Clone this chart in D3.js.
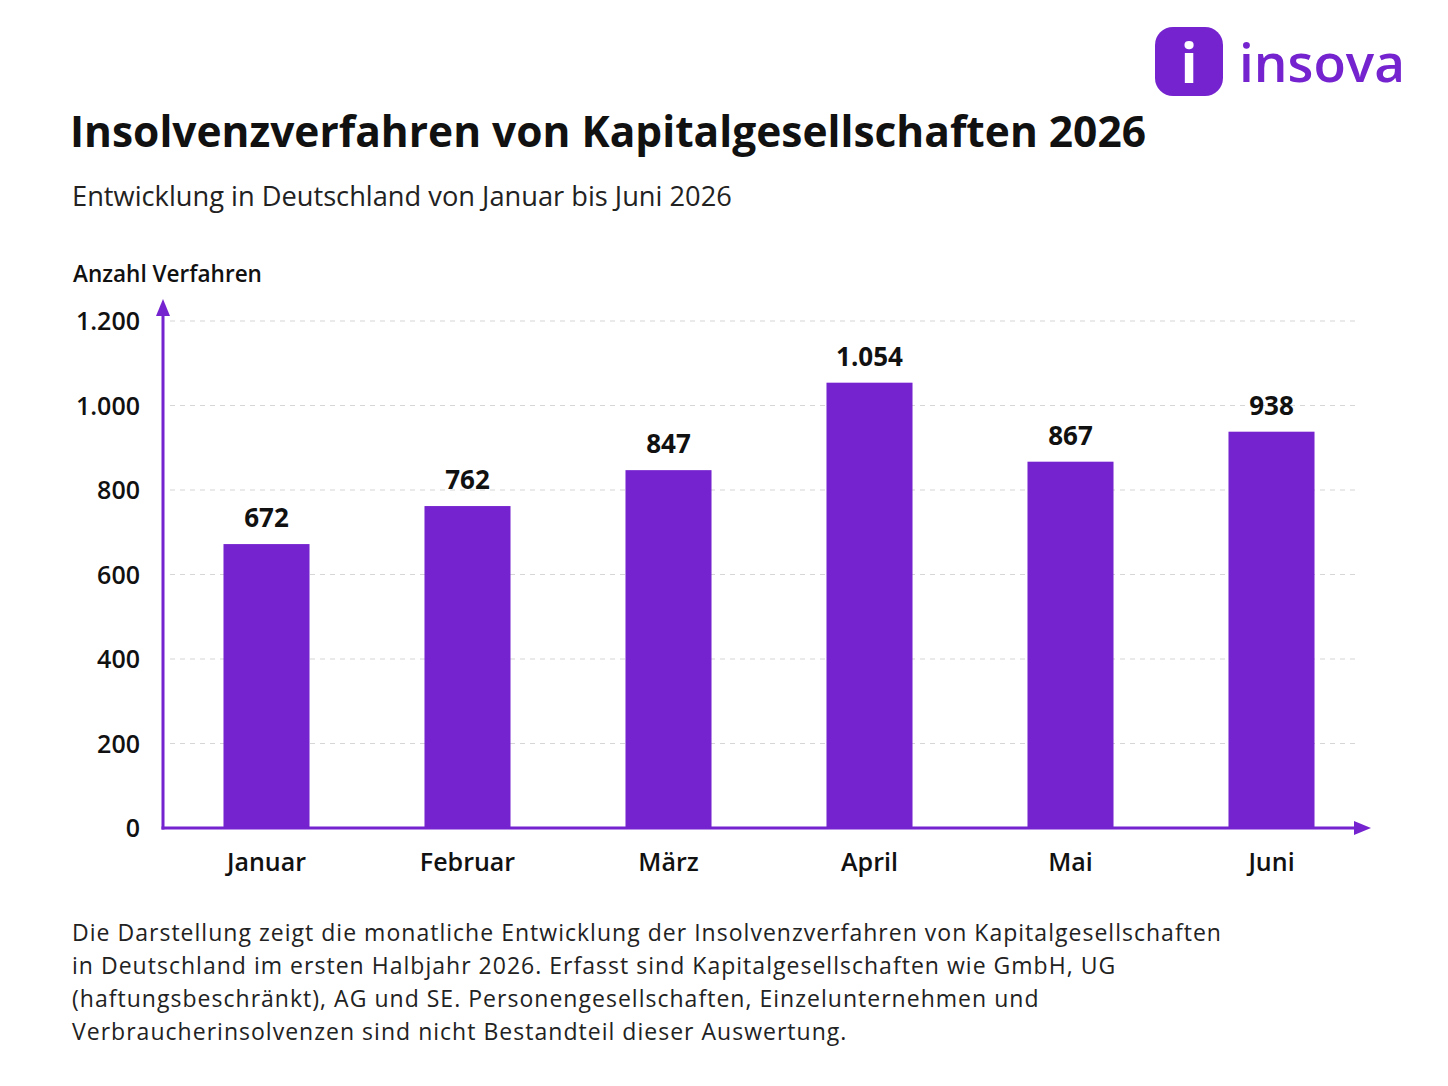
<!DOCTYPE html>
<html>
<head>
<meta charset="utf-8">
<script src="https://cdn.jsdelivr.net/npm/d3@7"></script>
<style>
  body { margin: 0; background: #fff; }
  svg { display: block; font-family: "Open Sans", "Noto Sans", sans-serif; }
</style>
</head>
<body>
<div id="chart"></div>
<script>
// data
const months = ["Januar", "Februar", "März", "April", "Mai", "Juni"];
const counts = [672, 762, 847, 1054, 867, 938];
const yTicks = [0, 200, 400, 600, 800, 1000, 1200];

const footnote = [
    "Die Darstellung zeigt die monatliche Entwicklung der Insolvenzverfahren von Kapitalgesellschaften",
    "in Deutschland im ersten Halbjahr 2026. Erfasst sind Kapitalgesellschaften wie GmbH, UG",
    "(haftungsbeschränkt), AG und SE. Personengesellschaften, Einzelunternehmen und",
    "Verbraucherinsolvenzen sind nicht Bestandteil dieser Auswertung."
];

const purple = "#7523cf";
const W = 1448, H = 1086;
const fmt = d3.formatLocale({ decimal: ",", thousands: ".", grouping: [3], currency: ["", "€"] }).format(",d");

const svg = d3.select("#chart").append("svg")
    .attr("width", W)
    .attr("height", H);

// shrink/grow font so a text fills the given width
function fitText(sel, width) {
    const node = sel.node();
    const fs = parseFloat(sel.attr("font-size"));
    const len = node.getComputedTextLength();
    sel.attr("font-size", (fs * width / len).toFixed(2));
    return sel;
}

// logo
svg.append("rect")
    .attr("x", 1155).attr("y", 27)
    .attr("width", 68).attr("height", 69)
    .attr("rx", 18)
    .attr("fill", purple);
svg.append("text")
    .attr("x", 1189).attr("y", 83)
    .attr("text-anchor", "middle")
    .attr("font-size", 56)
    .attr("font-weight", 700)
    .attr("fill", "#fff")
    .text("i");
fitText(svg.append("text")
    .attr("x", 1239).attr("y", 82)
    .attr("font-size", 60)
    .attr("font-weight", 600)
    .attr("fill", purple)
    .text("insova"), 166);

// titles
fitText(svg.append("text")
    .attr("x", 70).attr("y", 147)
    .attr("font-size", 44)
    .attr("font-weight", 700)
    .attr("fill", "#111")
    .text("Insolvenzverfahren von Kapitalgesellschaften 2026"), 1076);

fitText(svg.append("text")
    .attr("x", 72).attr("y", 206)
    .attr("font-size", 26)
    .attr("fill", "#222")
    .text("Entwicklung in Deutschland von Januar bis Juni 2026"), 660);

fitText(svg.append("text")
    .attr("x", 73).attr("y", 282)
    .attr("font-size", 22)
    .attr("font-weight", 600)
    .attr("fill", "#111")
    .text("Anzahl Verfahren"), 189);

// scales
const x = d3.scaleBand()
    .domain(months)
    .range([166, 1372])
    .paddingInner(0.572)
    .paddingOuter(0.286);

const y = d3.scaleLinear()
    .domain([0, 1200])
    .range([828, 321]);

// gridlines
svg.append("g")
    .selectAll("line")
    .data(yTicks.filter(d => d > 0))
    .join("line")
    .attr("x1", 170).attr("x2", 1356)
    .attr("y1", d => y(d)).attr("y2", d => y(d))
    .attr("stroke", "#d6d6d6")
    .attr("stroke-width", 1.2)
    .attr("stroke-dasharray", "5,5");

// y tick labels
svg.append("g")
    .selectAll("text")
    .data(yTicks)
    .join("text")
    .attr("x", 140)
    .attr("y", d => y(d) + 9)
    .attr("text-anchor", "end")
    .attr("font-size", 25)
    .attr("font-weight", 600)
    .attr("fill", "#111")
    .text(d => fmt(d));

// bars
svg.append("g")
    .selectAll("rect")
    .data(counts)
    .join("rect")
    .attr("x", (d, i) => x(months[i]))
    .attr("y", d => y(d))
    .attr("width", x.bandwidth())
    .attr("height", d => y(0) - y(d))
    .attr("fill", purple);

// value labels
svg.append("g")
    .selectAll("text")
    .data(counts)
    .join("text")
    .attr("x", (d, i) => x(months[i]) + x.bandwidth() / 2)
    .attr("y", d => y(d) - 17)
    .attr("text-anchor", "middle")
    .attr("font-size", 26)
    .attr("font-weight", 700)
    .attr("fill", "#111")
    .text(d => fmt(d));

// month labels
svg.append("g")
    .selectAll("text")
    .data(months)
    .join("text")
    .attr("x", d => x(d) + x.bandwidth() / 2)
    .attr("y", 871)
    .attr("text-anchor", "middle")
    .attr("font-size", 25)
    .attr("font-weight", 600)
    .attr("fill", "#111")
    .text(d => d);

// axes with arrows
svg.append("line")
    .attr("x1", 163).attr("x2", 163)
    .attr("y1", y(0) + 1.5).attr("y2", 312)
    .attr("stroke", purple).attr("stroke-width", 3);
svg.append("path")
    .attr("d", "M163,299 L156,316 L170,316 Z")
    .attr("fill", purple);
svg.append("line")
    .attr("x1", 161.5).attr("x2", 1358)
    .attr("y1", y(0)).attr("y2", y(0))
    .attr("stroke", purple).attr("stroke-width", 3);
svg.append("path")
    .attr("d", `M1371,${y(0)} L1354,${y(0) - 7} L1354,${y(0) + 7} Z`)
    .attr("fill", purple);

// footnote, spaced out so the first line reaches the same width as the original
const notes = svg.append("g")
    .selectAll("text")
    .data(footnote)
    .join("text")
    .attr("x", 72)
    .attr("y", (d, i) => 941 + i * 33)
    .attr("font-size", 23)
    .attr("fill", "#222")
    .text(d => d);
const firstLen = notes.node().getComputedTextLength();
const spacing = (1150 - firstLen) / footnote[0].length;
notes.attr("letter-spacing", spacing.toFixed(3));
</script>
</body>
</html>
